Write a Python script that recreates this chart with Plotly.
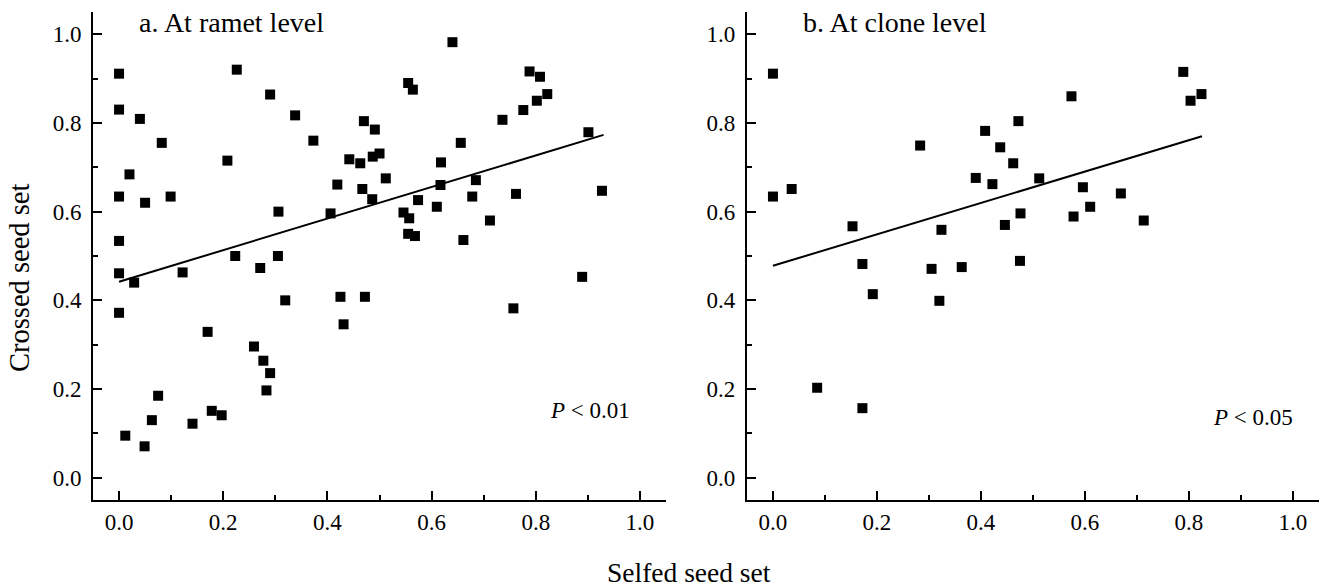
import plotly.graph_objects as go

# ---- Data ----
ramet_selfed = [0.000, 0.000, 0.040, 0.082, 0.020, 0.000, 0.050, 0.099, 0.000, 0.226,
                0.290, 0.338, 0.373, 0.208, 0.306, 0.406, 0.419, 0.640, 0.555, 0.564,
                0.788, 0.808, 0.822, 0.802, 0.776, 0.736, 0.470, 0.491, 0.901, 0.656,
                0.442, 0.463, 0.487, 0.500, 0.618, 0.512, 0.467, 0.486, 0.685, 0.617,
                0.678, 0.762, 0.927, 0.574, 0.610, 0.546, 0.557, 0.712, 0.555, 0.568,
                0.661, 0.000, 0.029, 0.000, 0.122, 0.223, 0.271, 0.305, 0.319, 0.425,
                0.170, 0.259, 0.277, 0.290, 0.283, 0.075, 0.063, 0.012, 0.049, 0.141,
                0.178, 0.197, 0.472, 0.431, 0.889, 0.757]
ramet_crossed = [0.911, 0.830, 0.809, 0.755, 0.684, 0.634, 0.620, 0.634, 0.534, 0.920,
                 0.864, 0.817, 0.760, 0.715, 0.600, 0.596, 0.661, 0.982, 0.890, 0.875,
                 0.916, 0.904, 0.865, 0.850, 0.829, 0.807, 0.804, 0.785, 0.779, 0.755,
                 0.718, 0.709, 0.724, 0.731, 0.711, 0.675, 0.651, 0.628, 0.671, 0.660,
                 0.634, 0.640, 0.647, 0.626, 0.611, 0.598, 0.585, 0.580, 0.550, 0.545,
                 0.536, 0.461, 0.440, 0.372, 0.463, 0.500, 0.473, 0.500, 0.400, 0.408,
                 0.329, 0.296, 0.264, 0.236, 0.197, 0.185, 0.130, 0.095, 0.071, 0.122,
                 0.151, 0.141, 0.408, 0.346, 0.453, 0.382]
ramet_fit_x = [0.0, 0.93]
ramet_fit_y = [0.442, 0.773]

clone_selfed = [0.000, 0.000, 0.036, 0.283, 0.408, 0.437, 0.472, 0.462, 0.390, 0.422,
                0.446, 0.153, 0.324, 0.172, 0.305, 0.363, 0.192, 0.320, 0.085, 0.172,
                0.574, 0.789, 0.824, 0.803, 0.512, 0.596, 0.669, 0.610, 0.476, 0.578,
                0.713, 0.475]
clone_crossed = [0.911, 0.634, 0.651, 0.749, 0.782, 0.745, 0.804, 0.709, 0.676, 0.662,
                 0.570, 0.567, 0.559, 0.482, 0.471, 0.475, 0.414, 0.399, 0.203, 0.157,
                 0.860, 0.915, 0.865, 0.850, 0.675, 0.655, 0.641, 0.611, 0.596, 0.589,
                 0.580, 0.489]
clone_fit_x = [0.0, 0.825]
clone_fit_y = [0.478, 0.770]

tick_vals = [0.0, 0.2, 0.4, 0.6, 0.8, 1.0]
tick_text = ["0.0", "0.2", "0.4", "0.6", "0.8", "1.0"]

panel_titles = ["a. At ramet level", "b. At clone level"]
p_texts = ["<i>P</i> &lt; 0.01", "<i>P</i> &lt; 0.05"]
x_title = "Selfed seed set"
y_title = "Crossed seed set"

FONT = "Liberation Serif"

fig = go.Figure()

fig.add_trace(go.Scatter(x=ramet_selfed, y=ramet_crossed, mode="markers",
                         marker=dict(symbol="square", size=10, color="black"),
                         xaxis="x", yaxis="y", showlegend=False))
fig.add_trace(go.Scatter(x=ramet_fit_x, y=ramet_fit_y, mode="lines",
                         line=dict(color="black", width=2),
                         xaxis="x", yaxis="y", showlegend=False))
fig.add_trace(go.Scatter(x=clone_selfed, y=clone_crossed, mode="markers",
                         marker=dict(symbol="square", size=10, color="black"),
                         xaxis="x2", yaxis="y2", showlegend=False))
fig.add_trace(go.Scatter(x=clone_fit_x, y=clone_fit_y, mode="lines",
                         line=dict(color="black", width=2),
                         xaxis="x2", yaxis="y2", showlegend=False))

axis_common = dict(
    range=[-0.05, 1.05], tickvals=tick_vals, ticktext=tick_text,
    ticks="inside", ticklen=9, tickwidth=2, tickcolor="black",
    showline=True, linewidth=2, linecolor="black",
    showgrid=False, zeroline=False, mirror=False,
    minor=dict(dtick=0.1, tick0=0, ticks="inside", ticklen=5, tickwidth=2,
               tickcolor="black", showgrid=False),
    tickfont=dict(family=FONT, size=23, color="black"),
)

dom_left = [0.0, 0.4674]
dom_right = [0.5334, 1.0]

fig.update_layout(
    width=1320, height=588,
    margin=dict(l=93, r=1, t=12, b=88),
    paper_bgcolor="white", plot_bgcolor="white",
    font=dict(family=FONT, color="black"),
    xaxis=dict(domain=dom_left, anchor="y", ticklabelstandoff=0, **axis_common),
    yaxis=dict(domain=[0, 1], anchor="x", ticklabelstandoff=5, **axis_common),
    xaxis2=dict(domain=dom_right, anchor="y2", ticklabelstandoff=0, **axis_common),
    yaxis2=dict(domain=[0, 1], anchor="x2", ticklabelstandoff=5, **axis_common),
)

annots = [
    dict(text=panel_titles[0], x=0.0359, y=0.9795, xanchor="left", yanchor="middle", size=28),
    dict(text=panel_titles[1], x=0.5775, y=0.9795, xanchor="left", yanchor="middle", size=28),
    dict(text=p_texts[0], x=0.4396, y=0.1844, xanchor="right", yanchor="middle", size=23),
    dict(text=p_texts[1], x=0.9804, y=0.170, xanchor="right", yanchor="middle", size=23),
    dict(text=x_title, x=0.486, y=-0.148, xanchor="center", yanchor="middle", size=27.5),
    dict(text=y_title, x=-0.0595, y=0.455, xanchor="center", yanchor="middle",
         textangle=-90, size=28.5),
]
for a in annots:
    size = a.pop("size")
    fig.add_annotation(xref="paper", yref="paper", showarrow=False,
                       font=dict(family=FONT, size=size, color="black"), **a)

fig.write_html("out.html", config={"displayModeBar": False},
               post_script="document.body.style.margin='0';")
